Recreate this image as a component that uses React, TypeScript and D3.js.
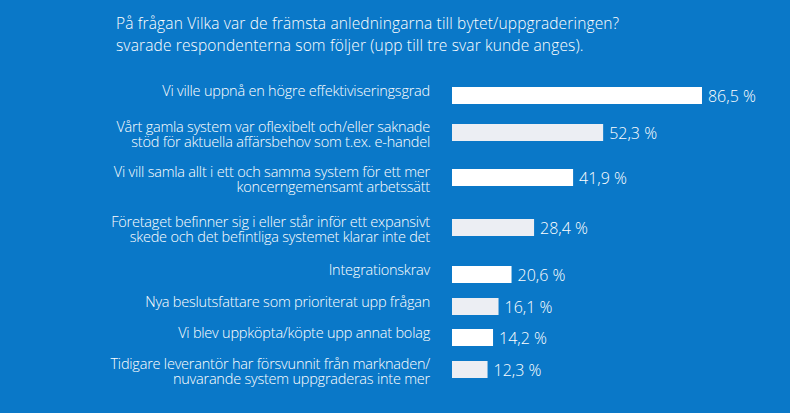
import React from "react";
import * as d3 from "d3";

const titleLines = [
  "På frågan Vilka var de främsta anledningarna till bytet/uppgraderingen?",
  "svarade respondenterna som följer (upp till tre svar kunde anges).",
];

const categories = [
  ["Vi ville uppnå en högre effektiviseringsgrad"],
  ["Vårt gamla system var oflexibelt och/eller saknade", "stöd för aktuella affärsbehov som t.ex. e-handel"],
  ["Vi vill samla allt i ett och samma system för ett mer", "koncerngemensamt arbetssätt"],
  ["Företaget befinner sig i eller står inför ett expansivt", "skede och det befintliga systemet klarar inte det"],
  ["Integrationskrav"],
  ["Nya beslutsfattare som prioriterat upp frågan"],
  ["Vi blev uppköpta/köpte upp annat bolag"],
  ["Tidigare leverantör har försvunnit från marknaden/", "nuvarande system uppgraderas inte mer"],
];

const values = [86.5, 52.3, 41.9, 28.4, 20.6, 16.1, 14.2, 12.3];

// layout: spacing between consecutive row centres (px)
const rowGaps = [37, 45, 50, 47, 32, 31, 32];

const W = 790;
const H = 413;
const BG = "#0a78c8";
const FONT = "'Open Sans', sans-serif";

export default function App() {
  const x = d3.scaleLinear().domain([0, 100]).range([452, 741]);
  const offsets = [0, ...d3.cumsum(rowGaps)];
  const y = d3.scaleLinear().domain([0, d3.sum(rowGaps)]).range([95.5, 95.5 + d3.sum(rowGaps)]);
  const barH = 17;
  const fmt = (v: number) => d3.format(".1f")(v).replace(".", ",") + " %";

  return (
    <svg
      width={W}
      height={H}
      style={{ position: "absolute", left: 0, top: 0, display: "block" }}
      fontFamily={FONT}
      fontWeight={300}
    >
      <rect x={0} y={0} width={W} height={H} fill={BG} />
      {titleLines.map((t, i) => (
        <text key={i} x={116} y={29 + i * 22} fill="#ffffff" fontSize={15.5} letterSpacing={0.15}>
          {t}
        </text>
      ))}
      {values.map((v, i) => {
        const c = y(offsets[i]);
        const lines = categories[i];
        return (
          <g key={i}>
            <rect
              x={x(0)}
              y={c - barH / 2}
              width={x(v) - x(0)}
              height={barH}
              fill={i % 2 === 0 ? "#ffffff" : "#eceef3"}
            />
            <text x={x(v) + 6} y={c + 6} fill="#ffffff" fontSize={16}>
              {fmt(v)}
            </text>
            {lines.map((l, j) => (
              <text
                key={j}
                x={430}
                y={lines.length === 1 ? c : c - 1 + j * 15.3}
                textAnchor="end"
                fill="#ffffff"
                fontSize={14.5}
                letterSpacing={-0.22}
              >
                {l}
              </text>
            ))}
          </g>
        );
      })}
    </svg>
  );
}
